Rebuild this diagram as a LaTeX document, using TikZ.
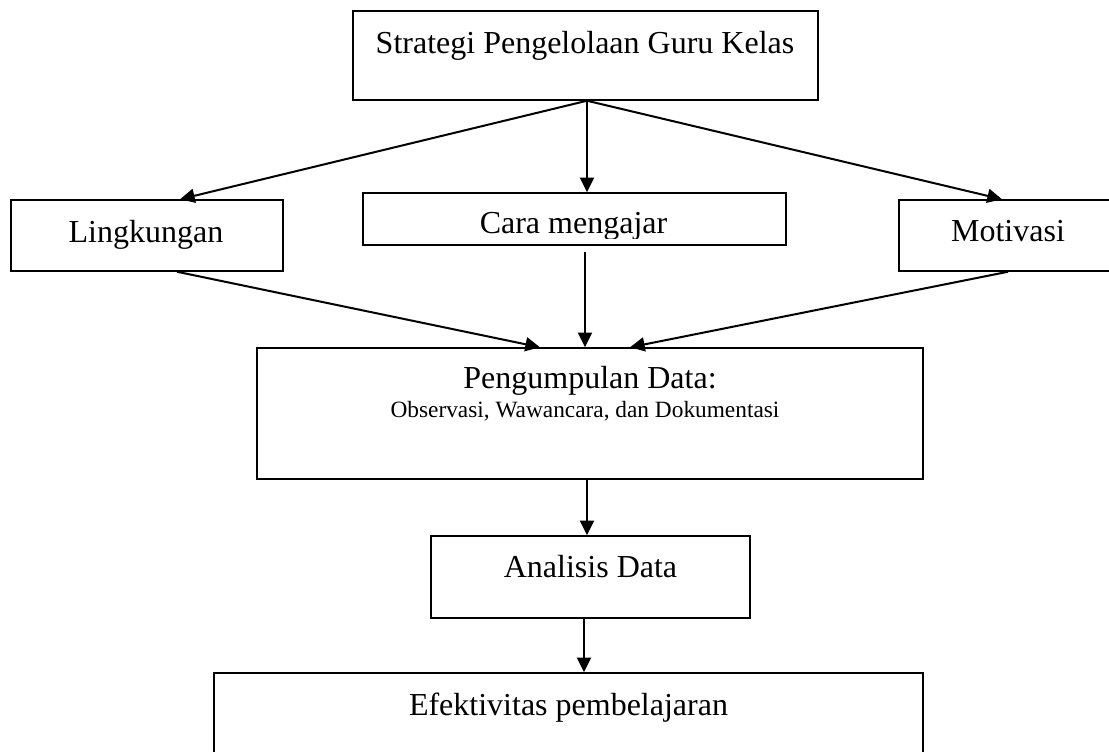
\documentclass[tikz,border=0pt]{standalone}
\usepackage{fontspec}
\setmainfont{Liberation Serif}
\usetikzlibrary{arrows.meta,calc}
\begin{document}
\begin{tikzpicture}[x=0.75pt,y=-0.75pt,
  box/.style={draw=black,line width=1.1pt,rectangle,inner sep=0pt,fill=none},
  bigtext/.style={anchor=base,inner sep=0pt,font=\fontsize{24}{28}\selectfont},
  smalltext/.style={anchor=base,inner sep=0pt,font=\fontsize{17.5}{21}\selectfont},
  conn/.style={line width=1.5pt,-{Triangle[length=11pt,width=10.5pt]}}]
\useasboundingbox (0,0) rectangle (1109,751);
\clip (0,0) rectangle (1109,751);
% boxes
\node[box,minimum width=465*0.75pt,minimum height=89*0.75pt] (top) at (585.5,55.5) {};
\node[box,minimum width=272*0.75pt,minimum height=71*0.75pt] (ling) at (147,235.5) {};
\node[box,minimum width=423*0.75pt,minimum height=52*0.75pt] (cara) at (574.5,219) {};
\node[box,minimum width=218*0.75pt,minimum height=71*0.75pt] (moti) at (1008,235.5) {};
\node[box,minimum width=666*0.75pt,minimum height=131*0.75pt] (peng) at (590,413.5) {};
\node[box,minimum width=319*0.75pt,minimum height=82*0.75pt] (anal) at (590.5,577) {};
\node[box,minimum width=709*0.75pt,minimum height=160*0.75pt] (efek) at (568.5,753) {};
% texts
\node[bigtext] (tTop) at (585,53) {Strategi Pengelolaan Guru Kelas};
\node[bigtext] (tLing) at (146,242) {Lingkungan};
\begin{scope}
\clip (cara.north west) rectangle ($(cara.east)+(0,19)$);
\node[bigtext] (tCara) at (573.5,233) {Cara mengajar};
\end{scope}
\node[bigtext] (tMoti) at (1008,241) {Motivasi};
\node[bigtext] (tPeng) at (590,388) {Pengumpulan Data:};
\node[smalltext] (tObs) at (585,417) {Observasi, Wawancara, dan Dokumentasi};
\node[bigtext] (tAnal) at (590.5,577) {Analisis Data};
\node[bigtext] (tEfek) at (568.5,715) {Efektivitas pembelajaran};
% connectors
\draw[conn] ($(top.south)+(1.5,0)$) -- ($(ling.north)+(33,0)$);
\draw[conn] ($(top.south)+(1.5,0)$) -- ($(cara.north)+(12.5,0)$);
\draw[conn] ($(top.south)+(1.5,0)$) -- ($(moti.north)+(-6,0)$);
\draw[conn] ($(ling.south)+(30,0)$) -- ($(peng.north)+(-50,0)$);
\draw[conn,shorten <=4.5pt] ($(cara.south)+(10.5,0)$) -- ($(peng.north)+(-5,0)$);
\draw[conn] (moti.south) -- ($(peng.north)+(40,0)$);
\draw[conn] ($(peng.south)+(-3,0)$) -- ($(anal.north)+(-3.5,0)$);
\draw[conn] ($(anal.south)+(-6.5,0)$) -- ($(efek.north)+(15.5,0)$);
\end{tikzpicture}
\end{document}
